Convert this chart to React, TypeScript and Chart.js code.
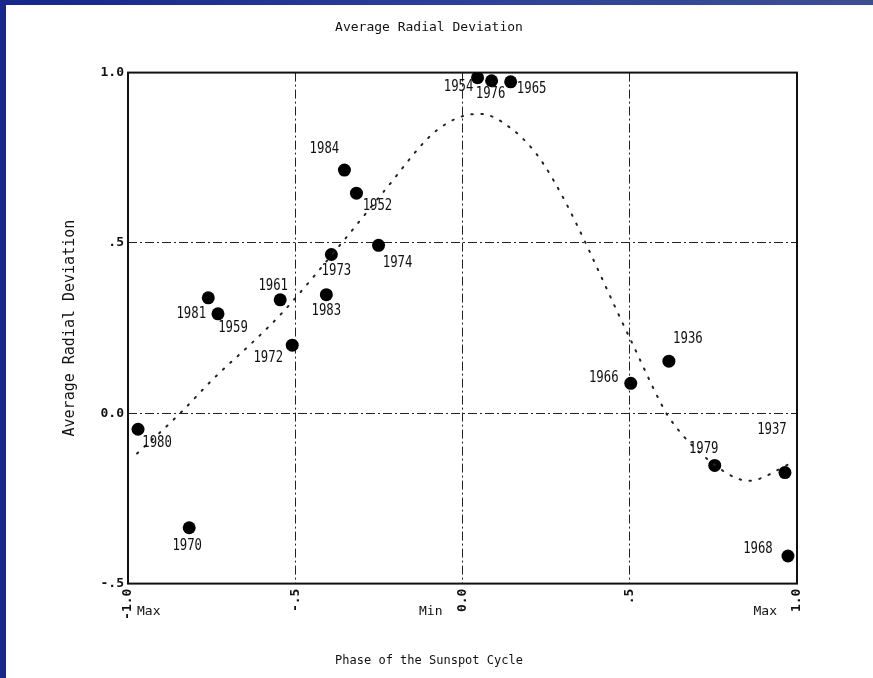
import React, { useEffect, useRef } from "react";
import { Chart, registerables } from "chart.js";

Chart.register(...registerables);

// ---- data ----
const years = ["1980", "1970", "1981", "1959", "1961", "1972", "1984", "1952", "1973", "1983", "1974", "1954", "1976", "1965", "1966", "1936", "1979", "1937", "1968"];
const phases = [-0.97, -0.817, -0.76, -0.731, -0.545, -0.509, -0.353, -0.317, -0.392, -0.407, -0.251, 0.045, 0.087, 0.144, 0.503, 0.617, 0.754, 0.964, 0.973];
const deviations = [-0.047, -0.336, 0.339, 0.292, 0.333, 0.2, 0.714, 0.646, 0.466, 0.348, 0.493, 0.985, 0.976, 0.973, 0.088, 0.153, -0.153, -0.174, -0.419];

// fitted (dotted) curve, read at several positions
const curvePhase = [-0.973, -0.844, -0.746, -0.614, -0.539, -0.35, -0.237, -0.075, 0.048, 0.114, 0.24, 0.5, 0.587, 0.617, 0.734, 0.856, 0.982];
const curveDeviation = [-0.118, 0.0, 0.1, 0.221, 0.295, 0.513, 0.649, 0.832, 0.879, 0.858, 0.735, 0.221, 0.041, -0.012, -0.136, -0.198, -0.147];

const xTickValues = [-1, -0.5, 0, 0.5, 1];
const xTickText = ["-1.0", "-.5", "0.0", ".5", "1.0"];
const yTickValues = [-0.5, 0, 0.5, 1];
const yTickText = ["-.5", "0.0", ".5", "1.0"];

const cyclePhase = [-1, 0, 1];
const cycleText = ["Max", "Min", "Max"];

const titleText = "Average Radial Deviation";
const xTitleText = "Phase of the Sunspot Cycle";
const yTitleText = "Average Radial Deviation";

// label placement relative to each dot (pixels)
const labelOffsets: [number, number][] = [
  [19, 14], [-2, 18], [-17, 16], [15, 14], [-7, -14], [-24, 13], [-20, -21], [21, 13],
  [5, 17], [0, 16], [19, 18], [-19, 9], [-1, 13], [21, 7], [-27, -5], [19, -22],
  [-11, -16], [-13, -42], [-30, -7],
];

const FONT = "'DejaVu Sans Mono', 'Liberation Mono', monospace";

function lookup(values: number[], texts: string[], v: number): string {
  for (let i = 0; i < values.length; i++) {
    if (Math.abs(values[i] - v) < 1e-6) return texts[i];
  }
  return "";
}

const decorPlugin = {
  id: "decor",
  beforeDatasetsDraw(chart: any) {
    const { ctx, chartArea } = chart;
    ctx.save();
    ctx.strokeStyle = "#111";
    ctx.lineWidth = 2;
    ctx.setLineDash([]);
    ctx.strokeRect(chartArea.left, chartArea.top, chartArea.right - chartArea.left, chartArea.bottom - chartArea.top);
    ctx.restore();
  },
  afterDatasetsDraw(chart: any) {
    const { ctx, chartArea } = chart;
    const meta = chart.getDatasetMeta(1);
    ctx.save();
    ctx.fillStyle = "#111";
    ctx.textAlign = "center";
    ctx.textBaseline = "middle";
    ctx.font = `15px ${FONT}`;
    meta.data.forEach((pt: any, i: number) => {
      const [dx, dy] = labelOffsets[i] || [0, 0];
      ctx.save();
      ctx.translate(pt.x + dx, pt.y + dy);
      ctx.scale(0.82, 1);
      ctx.fillText(years[i], 0, 0);
      ctx.restore();
    });
    const xs = chart.scales.x;
    const yy = chartArea.bottom + 28;
    ctx.font = `13px ${FONT}`;
    cyclePhase.forEach((p, i) => {
      const px = xs.getPixelForValue(p);
      if (p <= -1) {
        ctx.textAlign = "left";
        ctx.fillText(cycleText[i], px + 9, yy);
      } else {
        ctx.textAlign = "right";
        ctx.fillText(cycleText[i], px - 20, yy);
      }
    });
    ctx.restore();
  },
};

export default function App() {
  const ref = useRef<HTMLCanvasElement | null>(null);

  useEffect(() => {
    if (!ref.current) return;
    const chart = new Chart(ref.current, {
      type: "scatter",
      data: {
        datasets: [
          {
            label: "fit",
            data: curvePhase.map((x, i) => ({ x, y: curveDeviation[i] })),
            showLine: true,
            borderColor: "#222",
            borderWidth: 2,
            borderDash: [1.5, 8.5],
            borderCapStyle: "round",
            cubicInterpolationMode: "monotone",
            pointRadius: 0,
            pointHoverRadius: 0,
            fill: false,
          },
          {
            label: "years",
            data: phases.map((x, i) => ({ x, y: deviations[i] })),
            backgroundColor: "#000",
            borderColor: "#000",
            pointRadius: 6.5,
            pointHoverRadius: 6.5,
            borderWidth: 0,
          },
        ],
      } as any,
      options: {
        animation: false,
        responsive: false,
        devicePixelRatio: 1,
        events: [],
        layout: { padding: { left: 61, right: 76, top: 0, bottom: 0 } },
        plugins: {
          legend: { display: false },
          tooltip: { enabled: false },
          title: {
            display: true,
            text: titleText,
            color: "#111",
            font: { family: FONT, size: 13, weight: "normal" },
            padding: { top: 20, bottom: 37 },
          },
          subtitle: {
            display: true,
            position: "bottom",
            text: xTitleText,
            color: "#111",
            font: { family: FONT, size: 12, weight: "normal" },
            padding: { top: 20, bottom: 10 },
          },
        },
        scales: {
          x: {
            type: "linear",
            min: -1,
            max: 1,
            afterFit(scale: any) {
              scale.height = 50;
            },
            afterBuildTicks(scale: any) {
              scale.ticks = xTickValues.map((v) => ({ value: v }));
            },
            ticks: {
              color: "#111",
              font: { family: FONT, size: 13, weight: "bold" },
              minRotation: 90,
              maxRotation: 90,
              padding: 5,
              autoSkip: false,
              callback: (v: any) => lookup(xTickValues, xTickText, Number(v)),
            },
            grid: {
              color: "#222",
              lineWidth: 1,
              drawTicks: false,
            },
            border: { display: false, dash: [9, 3, 2, 3] },
          },
          y: {
            type: "linear",
            min: -0.5,
            max: 1,
            afterFit(scale: any) {
              scale.width = 67;
            },
            afterBuildTicks(scale: any) {
              scale.ticks = yTickValues.map((v) => ({ value: v }));
            },
            ticks: {
              color: "#111",
              font: { family: FONT, size: 13, weight: "bold" },
              padding: 4,
              callback: (v: any) => lookup(yTickValues, yTickText, Number(v)),
            },
            grid: {
              color: "#222",
              lineWidth: 1,
              drawTicks: false,
            },
            border: { display: false, dash: [9, 3, 2, 3] },
            title: {
              display: true,
              text: yTitleText,
              color: "#111",
              font: { family: FONT, size: 15, weight: "normal" },
              padding: 0,
            },
          },
        },
      } as any,
      plugins: [decorPlugin],
    });
    return () => chart.destroy();
  }, []);

  return (
    <div style={{ position: "fixed", left: 0, top: 0, width: 873, height: 678, background: "#fff", overflow: "hidden" }}>
      <canvas ref={ref} width={873} height={678} style={{ position: "absolute", left: 0, top: 0, width: 873, height: 678 }} />
      <div style={{ position: "absolute", left: 0, top: 0, width: 873, height: 5, background: "linear-gradient(90deg, #16268a 0%, #2b3f99 50%, #3c4f92 100%)" }} />
      <div style={{ position: "absolute", left: 0, top: 0, width: 6, height: 678, background: "#17278b" }} />
    </div>
  );
}
